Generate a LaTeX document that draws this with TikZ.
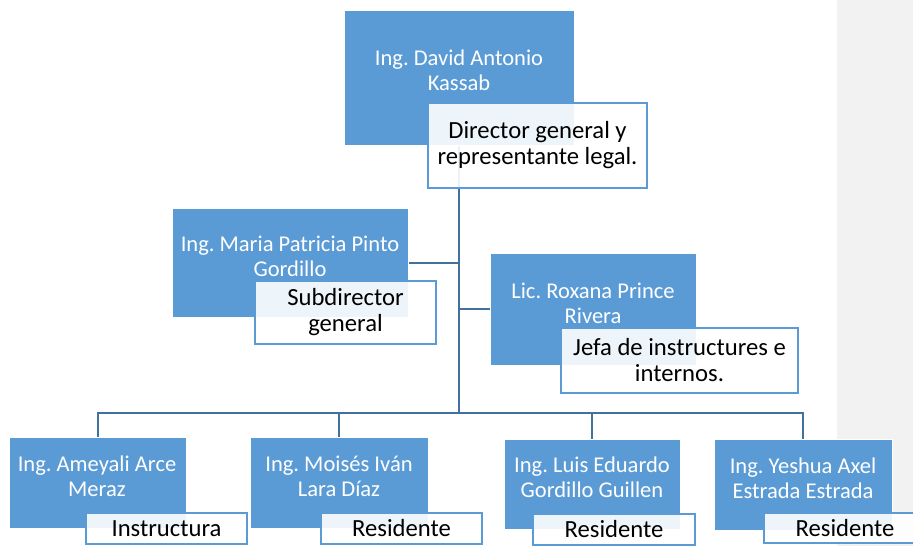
\documentclass[tikz,border=0pt]{standalone}
\usepackage{fontspec}
\setmainfont{Carlito}
\usetikzlibrary{fit}
\frenchspacing
\definecolor{boxblue}{HTML}{5B9BD5}
\definecolor{linkblue}{HTML}{41719C}
\definecolor{sidegray}{HTML}{F2F2F2}
\pgfdeclarelayer{bg}
\pgfdeclarelayer{links}
\pgfsetlayers{bg,links,main}
\tikzset{
  person/.style={fill=boxblue, draw=white, line width=0.4pt, inner sep=0pt},
  nametext/.style={text=white, align=center, inner sep=0pt,
    font=\fontsize{16.9}{18.75}\selectfont},
  rolebox/.style={fill=white, fill opacity=0.9, draw=boxblue,
    line width=1.1pt, inner sep=0pt},
  roletext/.style={text=black, align=center, inner sep=0pt,
    font=\fontsize{18.5}{19.5}\selectfont},
  link/.style={draw=linkblue, line width=1.5pt},
}
\begin{document}
\begin{tikzpicture}[x=0.75pt,y=-0.75pt]
\useasboundingbox (0,0) rectangle (913,546);
\begin{pgfonlayer}{bg}
  \fill[white] (0,0) rectangle (837,546);
  \fill[sidegray] (837,0) rectangle (913,546);
\end{pgfonlayer}

% director
\node[person, fit={(344,10) (574,145)}] (ceo) {};
\node[nametext] (ceoname) at (459,70) {Ing. David Antonio\\Kassab};
\node[rolebox, fit={(428,103) (647,188)}] (ceorole) {};
\node[roletext] (ceoroletext) at (ceorole.center) {Director general y\\representante legal.};

% second level
\node[person, fit={(172,208) (408,317)}] (sub) {};
\node[nametext] (subname) at (290,256) {Ing. Maria Patricia Pinto\\Gordillo};
\node[rolebox, fit={(255,281) (436,344)}] (subrole) {};
\node[roletext] (subroletext) at (subrole.center) {Subdirector\\general};

\node[person, fit={(490,253) (696,365)}] (jefa) {};
\node[nametext] (jefaname) at (593,303) {Lic. Roxana Prince\\Rivera};
\node[rolebox, fit={(561,328) (798,393)}] (jefarole) {};
\node[roletext] (jefaroletext) at (jefarole.center) {Jefa de instructures e\\internos.};

% staff
\node[person, fit={(9,437) (186,528)}] (p1) {};
\node[nametext] (p1name) at (97,476) {Ing. Ameyali Arce\\Meraz};
\node[rolebox, fit={(86,513) (247,544)}] (p1role) {};
\node[roletext] (p1roletext) at (p1role.center) {Instructura};

\node[person, fit={(250,437) (428,528)}] (p2) {};
\node[nametext] (p2name) at (339,476) {Ing. Moisés Iván\\Lara Díaz};
\node[rolebox, fit={(321,513) (482,544)}] (p2role) {};
\node[roletext] (p2roletext) at (p2role.center) {Residente};

\node[person, fit={(504,439) (680,529)}] (p3) {};
\node[nametext] (p3name) at (592,477) {Ing. Luis Eduardo\\Gordillo Guillen};
\node[rolebox, fit={(533,514) (695,545)}] (p3role) {};
\node[roletext] (p3roletext) at (p3role.center) {Residente};

\node[person, fit={(714,439) (892,530)}] (p4) {};
\node[nametext] (p4name) at (803,478) {Ing. Yeshua Axel\\Estrada Estrada};
\node[rolebox, fit={(764,513) (926,543)}] (p4role) {};
\node[roletext] (p4roletext) at (p4role.center) {Residente};

% connectors
\coordinate (hub) at (ceo.south |- 0,413);
\begin{pgfonlayer}{links}
  \draw[link] (ceo.south) -- (hub);
  \draw[link] (sub.east) -- (sub.east -| ceo.south);
  \draw[link] (jefa.west) -- (jefa.west -| ceo.south);
  \draw[link] (hub) -| (p1.north);
  \draw[link] (hub) -| (p2.north);
  \draw[link] (hub) -| (p3.north);
  \draw[link] (hub) -| (p4.north);
\end{pgfonlayer}
\end{tikzpicture}
\end{document}
